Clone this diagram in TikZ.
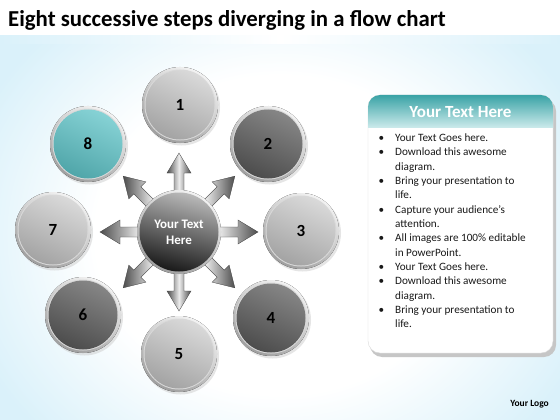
\documentclass[tikz,border=0pt]{standalone}
\usepackage{fontspec}
\setmainfont{Carlito}
\usetikzlibrary{shadows}
\definecolor{bgblue}{HTML}{DAF1FA}
\definecolor{tealA}{HTML}{3AA3A6}
\definecolor{tealB}{HTML}{C9E9EA}
\definecolor{ballteal}{HTML}{5EC3C7}
\pgfdeclareradialshading{bgshade}{\pgfpointorigin}{color(0bp)=(white); color(14bp)=(white); color(25bp)=(bgblue); color(50bp)=(bgblue)}
\tikzset{
  ringout/.style={shading=axis, top color=gray!10, bottom color=gray!75, shading angle=-30},
  lightball/.style={shading=axis, top color=gray!30, bottom color=gray!72, shading angle=-25},
  darkball/.style={shading=axis, top color=gray!95, bottom color=gray!60!black, shading angle=-25},
  tealball/.style={shading=axis, top color=ballteal!75, bottom color=ballteal!85!black, shading angle=-25},
  numtxt/.style={font=\bfseries\fontsize{17}{17}\selectfont, text=black},
  bul/.style={anchor=base west, font=\fontsize{11.2}{12}\selectfont, text=black!90, inner sep=0},
  arrowsh/.style={left color=gray!60!black, right color=gray!60!black, middle color=gray!15, draw=gray!50!black, line width=0.3pt}
}
\begin{document}
\begin{tikzpicture}[x=1pt,y=-1pt]
\useasboundingbox (0,0) rectangle (560,420);
% background
\fill[bgblue] (0,0) rectangle (560,420);
\shade[shading=bgshade] (-50,-50) rectangle (610,520);
\fill[white] (0,0) rectangle (560,36);
\shade[left color=bgblue, right color=bgblue, middle color=white] (0,36) rectangle (560,44);
\node[anchor=base west, inner sep=0, font=\bfseries\fontsize{22.8}{24}\selectfont] (title) at (8,27) {Eight successive steps diverging in a flow chart};

% arrows from hub
\coordinate (hc) at (179,232);
\foreach \a in {0,45,...,315}{
  \begin{scope}[shift={(hc)}, rotate=\a]
    \path[arrowsh] (0,-5) -- (59,-5) -- (59,-12) -- (79,0) -- (59,12) -- (59,5) -- (0,5) -- cycle;
  \end{scope}
}
% hub
\fill[ringout] (hc) circle (42);
\path[shading=axis, top color=gray!55, bottom color=gray!20!black, shading angle=-15] (hc) circle (39.5);
\node[font=\bfseries\fontsize{13}{16}\selectfont, text=white, align=center] (hub) at (hc) {Your Text\\Here};

% step circles
\foreach \n/\x/\y/\st in {1/180/105/lightball, 2/268/144/darkball, 3/301/231/lightball, 4/271/318/darkball, 5/179/354/lightball, 6/83/315/darkball, 7/53/230/lightball, 8/88/144/tealball}{
  \fill[gray!40, opacity=0.5] (\x+1.5,\y+2) circle (38.5);
  \fill[ringout] (\x,\y) circle (38);
  \fill[white!70!gray] (\x,\y) circle (35.5);
  \path[\st] (\x,\y) circle (34.5);
  \node[numtxt] (s\n) at (\x,\y) {\n};
}

% text panel
\fill[gray!45] (370,99) [rounded corners=12pt] rectangle (556,357);
\fill[white, draw=gray!30] (368,95) [rounded corners=12pt] rectangle (553,353);
\begin{scope}
  \clip (368,95) [rounded corners=12pt] rectangle (553,353);
  \shade[top color=tealA, bottom color=tealB] (368,95) rectangle (553,127);
\end{scope}
\node[font=\bfseries\fontsize{17}{17}\selectfont, text=white] (ph) at (460.5,112) {Your Text Here};
\foreach \t/\y/\b in {Your Text Goes here./141.5/1, Download this awesome/155.8/1, diagram./170/0, Bring your presentation to/184.5/1, life./198.7/0, Capture your audience’s/213/1, attention./227.3/0, All images are 100\% editable/241.6/1, in PowerPoint./256/0, Your Text Goes here./270.5/1, Download this awesome/284.7/1, diagram./299/0, Bring your presentation to/313.5/1, life./327.7/0}{
  \node[bul] at (395,\y) {\t};
  \ifnum\b=1 \node[bul] at (378.5,\y) {•}; \fi
}
\node[anchor=base east, inner sep=0, font=\bfseries\fontsize{9.5}{10}\selectfont] (logo) at (549,406) {Your Logo};
\end{tikzpicture}
\end{document}
